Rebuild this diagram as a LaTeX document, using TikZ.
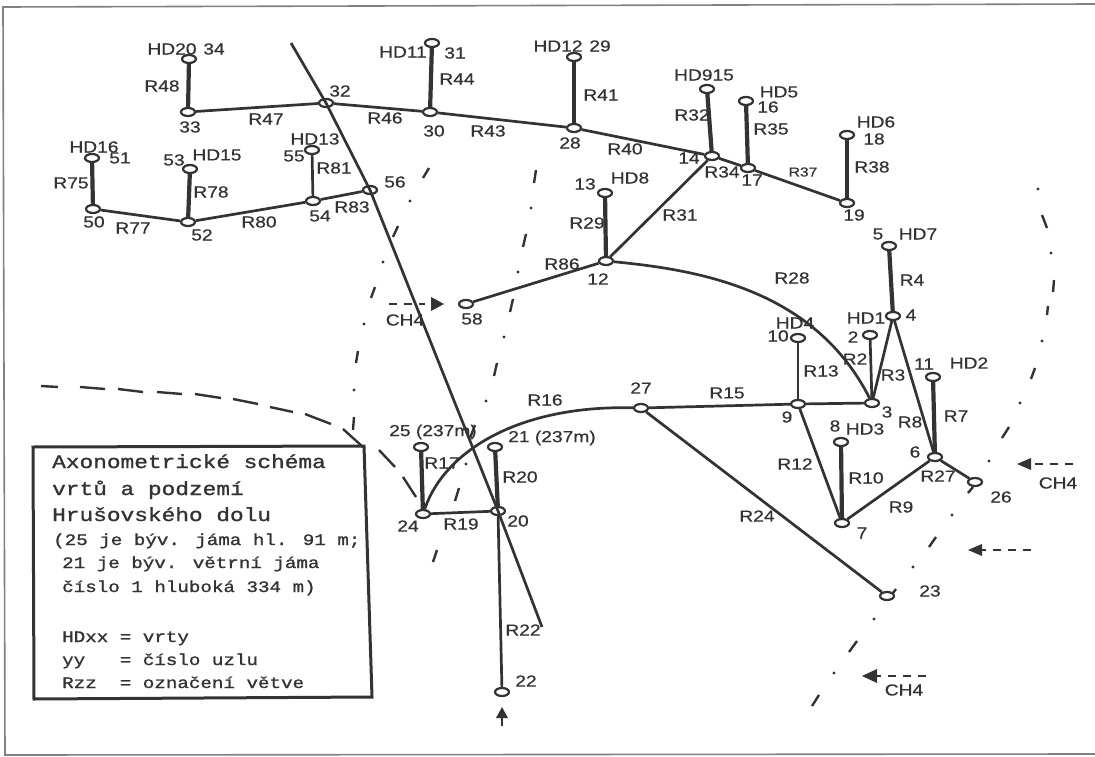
\documentclass[tikz,border=0pt]{standalone}
\usepackage{fontspec}
\usetikzlibrary{shapes.geometric,arrows.meta}
\newfontfamily\lblfont[FakeStretch=1.2,FakeBold=0.5]{Liberation Sans}
\newfontfamily\boxfont[FakeStretch=1.2,FakeBold=1.2]{Liberation Mono}
\definecolor{ink}{HTML}{333333}
\tikzset{
  pt/.style={ellipse,draw=ink,fill=white,line width=2.2pt,minimum width=14pt,minimum height=8pt,inner sep=0pt},
  lb/.style={text=ink,inner sep=0pt,font=\lblfont\fontsize{16}{16}\selectfont},
  lbs/.style={text=ink,inner sep=0pt,font=\lblfont\fontsize{13}{13}\selectfont},
  bigtext/.style={text=ink,inner sep=0pt,anchor=base west,font=\boxfont\fontsize{19}{20}\selectfont},
  smltext/.style={text=ink,inner sep=0pt,anchor=base west,font=\boxfont\fontsize{16}{17}\selectfont},
  barline/.style={draw=ink,line width=4.2pt},
  edgeline/.style={draw=ink,line width=2.7pt},
  tickline/.style={draw=ink,line width=2.4pt},
  flowline/.style={draw=ink,line width=2.5pt,dash pattern=on 8pt off 7pt},
  headfill/.style={draw=none,fill=ink}
}
\begin{document}
\begin{tikzpicture}[x=1pt,y=-1pt]
\useasboundingbox (0,0) rectangle (1095,757);
\fill[white] (0,0) rectangle (1095,757);
% sheet edge
\draw[gray,line width=1.6pt] (1095,4) -- (3,7) -- (5,755) -- (1095,754);
% dash-dot boundaries
\foreach \a/\b/\c/\d in {429/168/423/178,398/226/393/237,375/287/371/298,358/351/356/363,354/417/353/430,
 536/170/534/183,526/234/523/247,513/299/510/312,497/363/494/376,475/425/470/438,459/488/455/501,437/550/433/562,
 1042/215/1047/228,1054/280/1053/292,1048/306/1047/315,1035/368/1031/379,1009/427/1002/438,973/487/968/493,936/537/929/547,896/589/890/597,857/641/849/652,819/695/812/706,
 41/386/58/387,80/387/105/389,118/389/143/392,157/392/182/394,195/394/221/398,233/399/258/404,270/407/293/412,305/414/331/424,343/429/363/447,379/450/395/467,403/477/416/497}
  {\draw[tickline] (\a,\b) -- (\c,\d);}
\foreach \a/\b in {410/201,383/262,364/324,354/390,531/208,518/272,504/337,486/401,466/464,1038/189,1051/253,1042/341,1020/403,989/461,952/515,913/567,874/619,834/673}
  {\fill[ink] (\a,\b) circle (1.6pt);}
% nodes
\foreach \n/\x/\y in {34/189/59,33/188/112,32/326/103,31/432/43,30/430/112,29/574/57,28/574/128,15/707/89,14/712/156,16/746/101,17/748/168,18/847/135,19/847/203,13/605/193,12/606/261,58/466/304,56/370/190,55/312/150,54/313/201,53/190/169,52/188/222,51/92/158,50/93/209,5/889/246,4/893/316,2/870/335,3/872/403,10/798/338,9/798/404,27/641/408,11/933/377,6/935/457,26/975/482,8/841/442,7/842/523,23/887/596,25/421/447,24/423/514,21/495/447,20/498/511,22/502/692}
  {\node[pt] (n\n) at (\x,\y) {};}
\coordinate (ltop) at (291,43);
\coordinate (lbot) at (542,627);
% connectors
\foreach \a/\b in {34/33,31/30,29/28,15/14,16/17,18/19,13/12,53/52,51/50,5/4,11/6,21/20,8/7,25/24}
  {\draw[barline] (n\a) -- (n\b);}
\foreach \a/\b in {33/32,32/30,30/28,28/14,14/17,17/19,14/12,12/58,54/56,54/52,52/50,4/3,4/6,2/3,10/9,9/3,27/9,9/7,6/7,6/26,27/23,24/20,20/22,55/54}
  {\draw[edgeline] (n\a) -- (n\b);}
\draw[edgeline] (n12) .. controls (700,270) and (815,290) .. (n3);
\draw[edgeline] (n24) .. controls (445,450) and (520,405) .. (n27);
\draw[edgeline] (ltop) -- (n32.center) -- (n56.center) -- (n20.center) -- (lbot);
% flow arrows
\coordinate (fa1) at (389,304); \coordinate (fa2) at (425,304);
\coordinate (fb1) at (1073,464); \coordinate (fb2) at (1030,464);
\coordinate (fc1) at (1031,550); \coordinate (fc2) at (980,550);
\coordinate (fd1) at (926,676); \coordinate (fd2) at (876,676);
\draw[flowline] (fa1) -- (fa2);
\draw[flowline] (fb1) -- (fb2);
\draw[flowline] (fc1) -- (fc2);
\draw[flowline] (fd1) -- (fd2);
\fill[headfill] (444,304) -- (431,297) -- (431,311) -- cycle;
\fill[headfill] (1017,464) -- (1031,458) -- (1031,470) -- cycle;
\fill[headfill] (968,550) -- (982,544) -- (982,556) -- cycle;
\fill[headfill] (862,676) -- (877,669) -- (877,683) -- cycle;
\coordinate (up1) at (502,726); \coordinate (up2) at (502,714);
\draw[draw=ink,line width=2.5pt] (up1) -- (up2);
\fill[headfill] (502,707) -- (496,718) -- (508,718) -- cycle;
% labels
\foreach \t/\x/\y in {HD20/172/49,34/214/49,R48/162/86,R47/266/119,33/190/127,32/340/91,R46/385/118,HD11/403/52,31/455/53,R44/457/79,30/434/131,R43/488/131,HD16/94/147,51/120/158,R75/71/183,50/94/222,R77/133/228,53/174/160,HD15/217/155,R78/211/192,52/202/235,R80/259/222,HD13/315/139,55/294/156,R81/334/168,R83/352/207,54/320/216,56/395/182,CH4/405/320,58/472/319,
 HD12/558/46,29/600/46,R41/601/95,28/570/143,R40/625/149,HD915/704/75,R32/692/115,HD5/779/92,16/768/107,R35/771/129,14/689/158,R34/722/172,17/752/180,HD6/876/122,18/874/139,R38/872/167,19/854/215,13/585/184,HD8/630/178,R29/587/223,R31/680/215,R86/562/264,12/598/279,R28/792/278,5/878/234,HD7/918/234,R4/912/280,4/911/315,HD1/866/318,HD4/795/323,10/778/336,2/853/337,R2/855/359,R13/821/371,R3/893/375,11/924/364,HD2/969/363,27/641/388,R15/727/393,3/887/412,9/787/417,R7/956/416,R8/910/422,8/835/426,HD3/865/429,
 6/915/452,R12/795/464,R10/866/478,R27/938/476,26/1001/497,R9/901/507,R24/757/516,7/862/533,23/930/591,CH4/904/690,CH4/1058/483,
 R17/442/463,R20/520/477,R16/545/400,R19/461/524,24/408/526,20/518/521,R22/523/630,22/526/681}
  {\node[lb] (l\t x\x) at (\x,\y) {\t};}
\node[lbs] (lR37) at (803,172) {R37};
\node[lb] (l25) at (433,432) {25 (237m)};
\node[lb] (l21) at (552,438) {21 (237m)};
% legend
\coordinate (bA) at (33,447); \coordinate (bB) at (364,446); \coordinate (bC) at (372,697); \coordinate (bD) at (34,699);
\draw[draw=ink,line width=3pt] (bA) -- (bB) -- (bC) -- (bD) -- cycle;
\node[bigtext] (t1) at (52,468) {Axonometrické schéma};
\node[bigtext] (t2) at (52,495) {vrtů a podzemí};
\node[bigtext] (t3) at (52,521) {Hrušovského dolu};
\node[smltext] (t4) at (53,545) {(25 je býv. jáma hl. 91 m;};
\node[smltext] (t5) at (62,568) {21 je býv. větrní jáma};
\node[smltext] (t6) at (62,592) {číslo 1 hluboká 334 m)};
\node[smltext] (t7) at (62,642) {HDxx = vrty};
\node[smltext] (t8) at (62,665) {yy\ \ \ = číslo uzlu};
\node[smltext] (t9) at (62,688) {Rzz\ \ = označení větve};
\end{tikzpicture}
\end{document}
